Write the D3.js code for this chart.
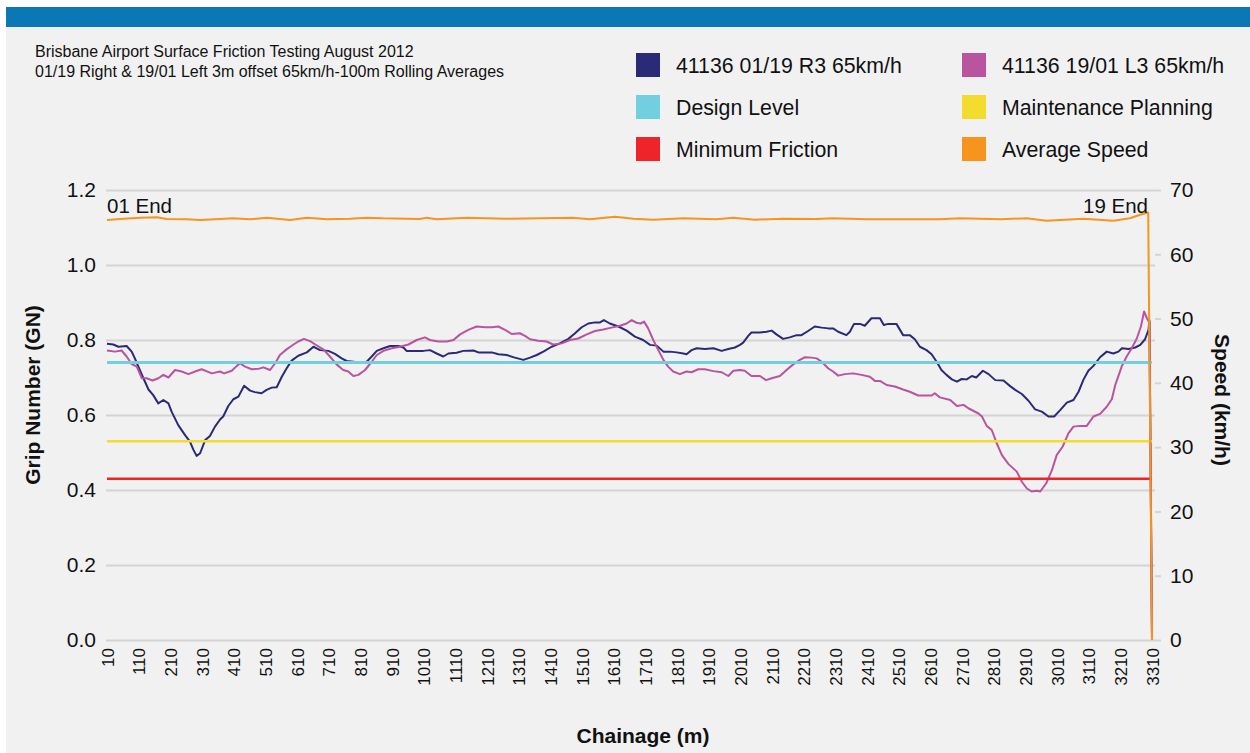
<!DOCTYPE html>
<html>
<head>
<meta charset="utf-8">
<script src="https://cdn.jsdelivr.net/npm/d3@7"></script>
<style>
  body { margin: 0; background: #ffffff; }
  svg { display: block; font-family: "Liberation Sans", Arial, Helvetica, sans-serif; }
</style>
</head>
<body>
<svg id="chart" width="1250" height="753"></svg>
<script>
// chainage labels along the bottom (m)
var chainageLabels = [10, 110, 210, 310, 410, 510, 610, 710, 810, 910, 1010, 1110, 1210, 1310, 1410, 1510,
    1610, 1710, 1810, 1910, 2010, 2110, 2210, 2310, 2410, 2510, 2610, 2710, 2810, 2910, 3010, 3110, 3210, 3310];
var gripTicks = [0, 0.2, 0.4, 0.6, 0.8, 1.0, 1.2];
var speedTicks = [0, 10, 20, 30, 40, 50, 60, 70];

// 41136 01/19 R3 65km/h  [chainage, grip number]
var gripR3 = [[10,0.790],[30,0.788],[46,0.782],[72,0.784],[88,0.769],[98,0.751],[109,0.729],[125,0.698],[141,0.668],
    [156,0.653],[172,0.631],[188,0.640],[204,0.631],[214,0.609],[235,0.573],[256,0.547],[272,0.529],[283,0.507],
    [293,0.491],[304,0.498],[320,0.533],[335,0.544],[351,0.569],[367,0.588],[377,0.596],[393,0.624],[409,0.642],
    [425,0.649],[443,0.678],[462,0.665],[477,0.661],[498,0.658],[514,0.667],[530,0.673],[546,0.674],[562,0.702],
    [577,0.724],[593,0.745],[614,0.758],[641,0.767],[662,0.782],[683,0.773],[709,0.771],[730,0.763],[751,0.751],
    [767,0.744],[788,0.742],[809,0.740],[830,0.742],[846,0.756],[862,0.771],[883,0.778],[904,0.784],[930,0.784],
    [946,0.780],[956,0.771],[983,0.771],[1009,0.771],[1030,0.773],[1051,0.764],[1072,0.756],[1088,0.764],
    [1114,0.766],[1135,0.771],[1167,0.772],[1183,0.767],[1225,0.767],[1246,0.762],[1272,0.760],[1298,0.753],
    [1325,0.747],[1346,0.753],[1367,0.760],[1388,0.769],[1414,0.782],[1440,0.791],[1467,0.803],[1488,0.818],
    [1509,0.834],[1530,0.844],[1551,0.847],[1567,0.847],[1579,0.853],[1598,0.844],[1625,0.836],[1651,0.825],
    [1677,0.809],[1703,0.800],[1725,0.787],[1746,0.785],[1767,0.769],[1788,0.769],[1809,0.767],[1830,0.764],
    [1840,0.762],[1856,0.773],[1872,0.778],[1898,0.776],[1925,0.778],[1951,0.771],[1972,0.776],[1993,0.780],
    [2009,0.787],[2019,0.793],[2035,0.811],[2045,0.820],[2072,0.820],[2093,0.822],[2109,0.825],[2124,0.815],
    [2145,0.803],[2166,0.807],[2188,0.813],[2203,0.813],[2224,0.824],[2245,0.836],[2267,0.833],[2288,0.831],
    [2303,0.831],[2319,0.822],[2345,0.813],[2356,0.822],[2369,0.843],[2388,0.843],[2403,0.838],[2424,0.858],
    [2451,0.858],[2463,0.840],[2477,0.843],[2503,0.843],[2524,0.813],[2545,0.813],[2561,0.802],[2577,0.782],
    [2598,0.773],[2614,0.762],[2630,0.742],[2645,0.720],[2661,0.707],[2678,0.695],[2694,0.689],[2709,0.696],
    [2725,0.695],[2741,0.704],[2755,0.700],[2776,0.718],[2794,0.709],[2815,0.693],[2841,0.692],[2862,0.677],
    [2878,0.667],[2899,0.656],[2920,0.638],[2941,0.615],[2962,0.609],[2983,0.596],[3001,0.596],[3020,0.613],
    [3041,0.633],[3062,0.640],[3078,0.662],[3094,0.695],[3109,0.718],[3125,0.731],[3146,0.754],[3167,0.769],
    [3188,0.764],[3204,0.769],[3215,0.778],[3236,0.776],[3257,0.780],[3273,0.787],[3288,0.802],[3299,0.827],
    [3302,0.852],[3310,0]];

// 41136 19/01 L3 65km/h  [chainage, grip number]
var gripL3 = [[10,0.772],[35,0.769],[56,0.772],[72,0.756],[88,0.736],[104,0.729],[120,0.698],[135,0.698],[154,0.692],
    [172,0.698],[188,0.707],[204,0.700],[225,0.720],[246,0.716],[267,0.709],[288,0.716],[309,0.722],[341,0.711],
    [367,0.716],[380,0.711],[404,0.718],[420,0.731],[430,0.738],[446,0.729],[467,0.722],[488,0.723],[504,0.727],
    [525,0.720],[541,0.738],[556,0.760],[577,0.775],[599,0.788],[614,0.796],[632,0.803],[651,0.797],[672,0.786],
    [693,0.775],[714,0.756],[735,0.735],[756,0.720],[772,0.716],[788,0.704],[804,0.707],[825,0.720],[846,0.742],
    [862,0.760],[883,0.771],[909,0.778],[935,0.782],[962,0.788],[988,0.800],[1014,0.807],[1030,0.800],[1056,0.796],
    [1083,0.796],[1104,0.800],[1125,0.815],[1151,0.827],[1177,0.836],[1204,0.834],[1225,0.834],[1246,0.836],
    [1267,0.827],[1288,0.816],[1314,0.818],[1330,0.811],[1346,0.802],[1372,0.798],[1398,0.796],[1419,0.788],
    [1446,0.791],[1472,0.800],[1498,0.804],[1525,0.815],[1551,0.824],[1577,0.828],[1603,0.833],[1630,0.838],
    [1651,0.844],[1667,0.853],[1682,0.846],[1695,0.844],[1706,0.849],[1719,0.831],[1735,0.800],[1751,0.773],
    [1767,0.747],[1782,0.729],[1798,0.716],[1819,0.709],[1840,0.716],[1856,0.714],[1877,0.722],[1898,0.722],
    [1925,0.717],[1951,0.714],[1972,0.704],[1988,0.718],[2009,0.720],[2024,0.718],[2045,0.704],[2072,0.704],
    [2091,0.693],[2109,0.698],[2135,0.704],[2156,0.720],[2177,0.735],[2198,0.747],[2214,0.754],[2235,0.753],
    [2251,0.751],[2267,0.742],[2288,0.724],[2303,0.716],[2319,0.705],[2340,0.709],[2366,0.711],[2393,0.707],
    [2419,0.702],[2435,0.691],[2451,0.691],[2472,0.680],[2498,0.676],[2524,0.668],[2545,0.662],[2572,0.652],
    [2598,0.652],[2614,0.652],[2624,0.658],[2640,0.647],[2673,0.640],[2694,0.624],[2715,0.627],[2730,0.618],
    [2762,0.604],[2773,0.596],[2788,0.571],[2804,0.560],[2820,0.524],[2836,0.493],[2857,0.469],[2883,0.449],
    [2899,0.422],[2915,0.404],[2930,0.396],[2946,0.398],[2957,0.396],[2976,0.418],[2994,0.453],[3009,0.493],
    [3028,0.516],[3046,0.551],[3062,0.569],[3083,0.571],[3104,0.571],[3125,0.596],[3146,0.603],[3167,0.622],
    [3183,0.642],[3194,0.680],[3215,0.731],[3230,0.756],[3246,0.778],[3262,0.804],[3275,0.836],[3285,0.876],
    [3294,0.858],[3302,0.846],[3310,0]];

// average speed, km/h  [chainage, speed]
var avgSpeed = [[10,65.33],[51,65.49],[114,65.7],[168,65.75],[199,65.49],[262,65.44],[304,65.33],[367,65.49],
    [408,65.6],[462,65.44],[515,65.7],[588,65.33],[642,65.7],[705,65.44],[777,65.54],[831,65.7],[882,65.6],
    [998,65.5],[1019,65.7],[1051,65.44],[1146,65.7],[1272,65.54],[1377,65.6],[1482,65.7],[1535,65.44],
    [1614,65.85],[1672,65.54],[1735,65.38],[1830,65.6],[1935,65.44],[1988,65.7],[2056,65.38],[2146,65.54],
    [2251,65.49],[2303,65.6],[2409,65.44],[2514,65.44],[2640,65.44],[2703,65.6],[2830,65.44],[2914,65.6],
    [2977,65.23],[3093,65.54],[3188,65.23],[3240,65.6],[3282,66.3],[3298,66.5],[3310,0]];

// threshold levels (GN)
var designLevel = 0.74;
var maintenanceLevel = 0.53;
var minimumLevel = 0.43;

var legendNames = ["41136 01/19 R3 65km/h", "41136 19/01 L3 65km/h", "Design Level",
    "Maintenance Planning", "Minimum Friction", "Average Speed"];
var legendColors = ["#2b2a76", "#b9549f", "#72cfe0", "#f4dc2e", "#ee2428", "#f7941d"];

var svg = d3.select("#chart");

// panel + top band
svg.append("rect").attr("x", 6).attr("y", 7).attr("width", 1244).attr("height", 746).attr("fill", "#f1f1f1");
svg.append("rect").attr("x", 6).attr("y", 7).attr("width", 1244).attr("height", 20).attr("fill", "#0a78b4");

// title
svg.append("text").attr("x", 35).attr("y", 57).attr("font-size", 16).attr("fill", "#111")
    .text("Brisbane Airport Surface Friction Testing August 2012");
svg.append("text").attr("x", 35).attr("y", 77).attr("font-size", 16).attr("fill", "#111")
    .text("01/19 Right & 19/01 Left 3m offset 65km/h-100m Rolling Averages");

// legend, two columns of three
var legend = svg.append("g").selectAll("g").data(legendNames).enter().append("g")
    .attr("transform", function (d, i) {
        return "translate(" + (i % 2 == 0 ? 636 : 962) + "," + (53 + Math.floor(i / 2) * 42) + ")";
    });
legend.append("rect").attr("width", 24).attr("height", 24)
    .attr("fill", function (d, i) { return legendColors[i]; });
legend.append("text").attr("x", 40).attr("y", 12).attr("dy", "0.36em")
    .attr("font-size", 21.3).attr("fill", "#111").text(function (d) { return d; });

// scales
var plotLeft = 106, plotRight = 1155, plotTop = 190, plotBottom = 640;
var x = d3.scaleLinear().domain([10, 3310]).range([107, 1152]);
var yGrip = d3.scaleLinear().domain([0, 1.2]).range([plotBottom, plotTop]);
var ySpeed = d3.scaleLinear().domain([0, 70]).range([plotBottom, plotTop]);

// left axis with gridlines
var leftAxis = svg.append("g").attr("transform", "translate(" + plotLeft + ",0)")
    .call(d3.axisLeft(yGrip).tickValues(gripTicks).tickFormat(d3.format(".1f"))
        .tickSize(-(plotRight - plotLeft)).tickPadding(10));
leftAxis.select(".domain").remove();
leftAxis.selectAll(".tick line").attr("stroke", "#d4d4d4").attr("stroke-width", 2);
leftAxis.selectAll(".tick text").attr("font-size", 21).attr("fill", "#111").attr("font-family", null);

// right axis
var rightAxis = svg.append("g").attr("transform", "translate(" + plotRight + ",0)")
    .call(d3.axisRight(ySpeed).tickValues(speedTicks).tickSize(6).tickPadding(9));
rightAxis.select(".domain").remove();
rightAxis.selectAll(".tick line").attr("stroke", "#d4d4d4").attr("stroke-width", 2);
rightAxis.selectAll(".tick text").attr("font-size", 21).attr("fill", "#111").attr("font-family", null);

// bottom axis, rotated labels
var bottomAxis = svg.append("g").attr("transform", "translate(0," + plotBottom + ")")
    .call(d3.axisBottom(x).tickValues(chainageLabels).tickFormat(d3.format("d")).tickSize(0));
bottomAxis.select(".domain").remove();
bottomAxis.selectAll(".tick text")
    .attr("transform", "rotate(-90)")
    .attr("x", -8).attr("y", 0).attr("dy", "0.36em")
    .attr("text-anchor", "end")
    .attr("font-size", 17).attr("fill", "#111").attr("font-family", null);

// series lines
var gripLine = d3.line().x(function (d) { return x(d[0]); }).y(function (d) { return yGrip(d[1]); });
var speedLine = d3.line().x(function (d) { return x(d[0]); }).y(function (d) { return ySpeed(d[1]); });

svg.append("path").datum(gripR3).attr("d", gripLine)
    .attr("fill", "none").attr("stroke", legendColors[0]).attr("stroke-width", 2).attr("stroke-linejoin", "round");
svg.append("path").datum(gripL3).attr("d", gripLine)
    .attr("fill", "none").attr("stroke", legendColors[1]).attr("stroke-width", 2).attr("stroke-linejoin", "round");

// threshold lines across the run
var levels = [[designLevel, legendColors[2], 3], [maintenanceLevel, legendColors[3], 2.5], [minimumLevel, legendColors[4], 2.5]];
svg.append("g").selectAll("line").data(levels).enter().append("line")
    .attr("x1", x(10)).attr("x2", x(3310))
    .attr("y1", function (d) { return yGrip(d[0]); })
    .attr("y2", function (d) { return yGrip(d[0]); })
    .attr("stroke", function (d) { return d[1]; })
    .attr("stroke-width", function (d) { return d[2]; });

svg.append("path").datum(avgSpeed).attr("d", speedLine)
    .attr("fill", "none").attr("stroke", legendColors[5]).attr("stroke-width", 2).attr("stroke-linejoin", "round");

// end markers
svg.append("text").attr("x", x(10)).attr("y", 213).attr("font-size", 20.5).attr("fill", "#111").text("01 End");
svg.append("text").attr("x", x(3310) - 4).attr("y", 213).attr("text-anchor", "end")
    .attr("font-size", 20.5).attr("fill", "#111").text("19 End");

// axis titles
svg.append("text").attr("transform", "translate(40,395) rotate(-90)").attr("text-anchor", "middle")
    .attr("font-size", 21).attr("font-weight", "bold").attr("fill", "#111").text("Grip Number (GN)");
svg.append("text").attr("transform", "translate(1215,400) rotate(90)").attr("text-anchor", "middle")
    .attr("font-size", 21).attr("font-weight", "bold").attr("fill", "#111").text("Speed (km/h)");
svg.append("text").attr("x", 643).attr("y", 743).attr("text-anchor", "middle")
    .attr("font-size", 21).attr("font-weight", "bold").attr("fill", "#111").text("Chainage (m)");
</script>
</body>
</html>
